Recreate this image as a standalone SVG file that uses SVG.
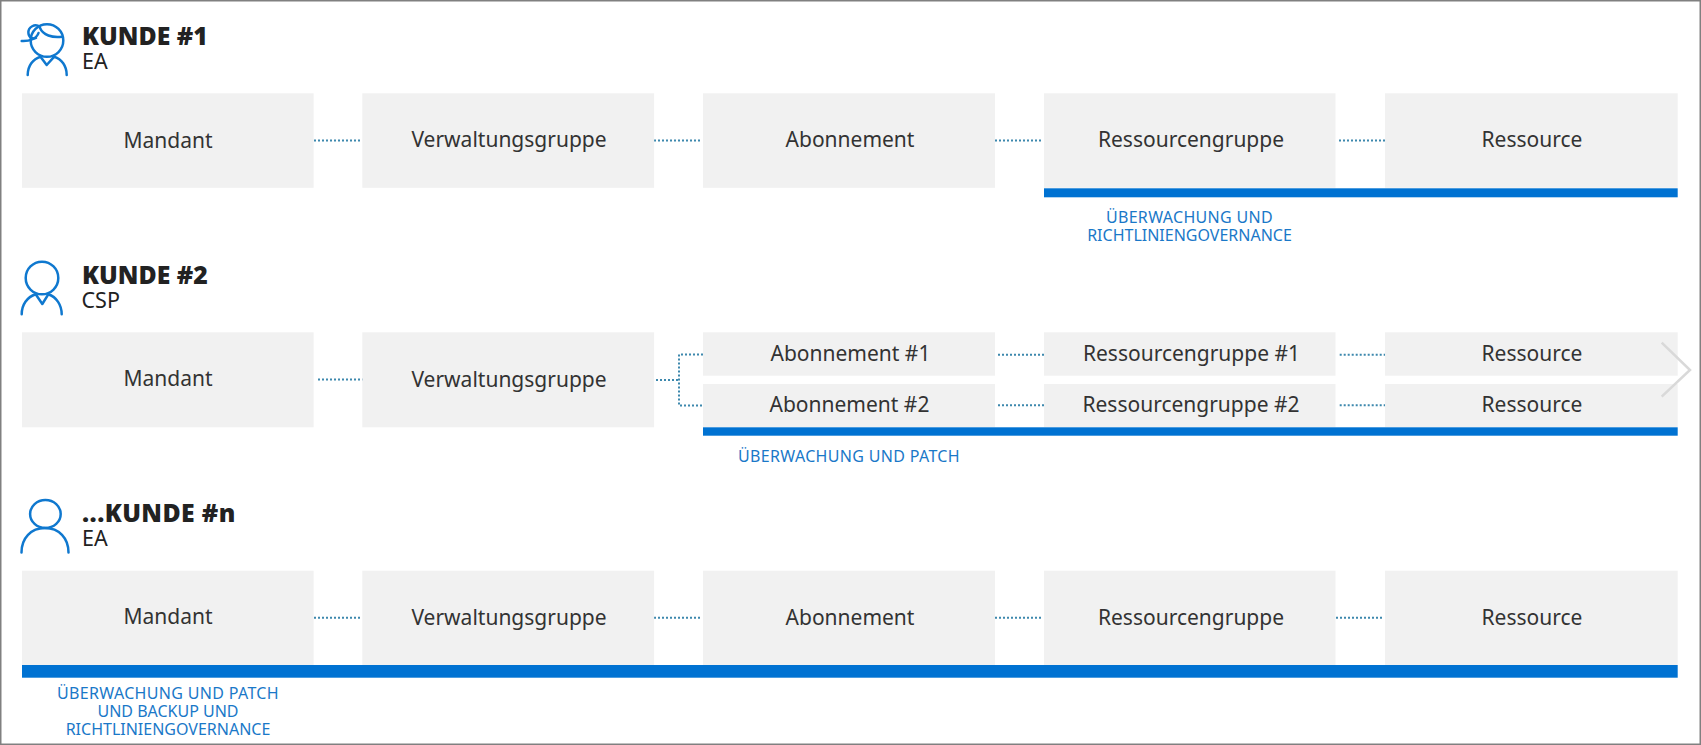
<svg xmlns="http://www.w3.org/2000/svg" width="1701" height="745" viewBox="0 0 1701 745">
<style>
.box{fill:#f1f1f1}
.bar{fill:#0072d2}
.t{font-family:"Noto Sans","Open Sans",sans-serif;font-size:21px;fill:#333;text-anchor:middle}
.h{font-family:"Noto Sans","Open Sans",sans-serif;font-size:24.800px;font-weight:900;fill:#222}
.s{font-family:"Noto Sans","Open Sans",sans-serif;font-size:21.500px;fill:#222}
.l{font-family:"Noto Sans","Open Sans",sans-serif;font-size:16px;fill:#1a78c8;text-anchor:middle}
.w{letter-spacing:0.33px}
.c{fill:none;stroke:#3d88ad;stroke-width:2;stroke-dasharray:2 2}
.i{fill:none;stroke:#0f78cf;stroke-width:2.500;stroke-linecap:round;stroke-linejoin:round}
</style>
<rect x="0.75" y="0.75" width="1699.5" height="743.5" fill="#fff" stroke="#808080" stroke-width="1.5"/>
<g id="connectors">
<path class="c" d="M314 140.5H360M654 140.5H702M995 140.5H1041M1339 140.5H1386"/>
<path class="c" d="M318 379.5H364.500M656 380H678M703 354.500H679V405.500H703M998 354.700H1044M998 405.300H1044M1339.700 354.700H1386M1339.700 405.300H1386"/>
<path class="c" d="M314 617.700H360M654 617.700H702M995 617.700H1041M1336 617.700H1383"/>
</g>
<g id="kunde1">
<circle class="i" cx="47" cy="40.500" r="16.300"/>
<path class="i" d="M40 28C43 35 52 38 62 36.700"/>
<path class="i" d="M38.500 33C37 38 30 41.500 21.700 41"/>
<path class="i" d="M40 27C35 23 28 27 28.400 33C28.800 38 33 39.500 36 38"/>
<path class="i" d="M27.700 75C27.700 66 33 59 40.500 56.700L46.700 65L54.300 56.700C61.500 59 66.700 66 66.700 75"/>
</g>
<g id="mandant1"><rect class="box" x="22" y="93.300" width="291.600" height="94.500"/><text class="t" x="168" y="147.500">Mandant</text></g>
<g id="vg1"><rect class="box" x="362.300" y="93.300" width="291.800" height="94.500"/><text class="t" x="509" y="147">Verwaltungsgruppe</text></g>
<g id="abo1"><rect class="box" x="703" y="93.300" width="292" height="94.500"/><text class="t" x="850" y="147">Abonnement</text></g>
<g id="rg1"><rect class="box" x="1044" y="93.300" width="291.500" height="94.500"/><text class="t" x="1191" y="147">Ressourcengruppe</text></g>
<g id="res1"><rect class="box" x="1385" y="93.300" width="292.700" height="94.500"/><text class="t" x="1532" y="147">Ressource</text></g>
<g id="kopf1"><text class="h" x="82" y="45">KUNDE #1</text><text class="s" x="82" y="69">EA</text></g>
<g id="bereich1"><rect class="bar" x="1044" y="188.300" width="633.700" height="9"/><text class="l w" x="1189.500" y="223.300">ÜBERWACHUNG UND</text><text class="l" x="1189.500" y="241">RICHTLINIENGOVERNANCE</text></g>
<g id="kunde2">
<circle class="i" cx="42" cy="278" r="16.300"/>
<path class="i" d="M21.700 314.300C21.700 305 27 297 35.700 294.300L42.300 304L48.300 294.300C56.500 297 61.700 305 61.700 314.300"/>
</g>
<g id="kopf2"><text class="h" x="82" y="284">KUNDE #2</text><text class="s" x="81.500" y="308.300">CSP</text></g>
<g id="mandant2"><rect class="box" x="22" y="332.300" width="291.600" height="95"/><text class="t" x="168" y="385.500">Mandant</text></g>
<g id="vg2"><rect class="box" x="362.300" y="332.300" width="291.800" height="95"/><text class="t" x="509" y="386.500">Verwaltungsgruppe</text></g>
<g id="abo21"><rect class="box" x="703" y="332.300" width="292" height="43.400"/><text class="t" x="850.500" y="361">Abonnement #1</text></g>
<g id="abo22"><rect class="box" x="703" y="384" width="292" height="43"/><text class="t" x="849.500" y="412.200">Abonnement #2</text></g>
<g id="rg21"><rect class="box" x="1044" y="332.300" width="291.500" height="43.400"/><text class="t" x="1191.500" y="361">Ressourcengruppe #1</text></g>
<g id="rg22"><rect class="box" x="1044" y="384" width="291.500" height="43"/><text class="t" x="1191" y="412.200">Ressourcengruppe #2</text></g>
<g id="res21"><rect class="box" x="1385" y="332.300" width="292.700" height="43.400"/><text class="t" x="1532" y="361">Ressource</text></g>
<g id="res22"><rect class="box" x="1385" y="384" width="292.700" height="43"/><text class="t" x="1532" y="412.200">Ressource</text></g>
<g id="bereich2"><rect class="bar" x="703" y="427.300" width="974.700" height="8.400"/><text class="l w" x="849" y="462.300">ÜBERWACHUNG UND PATCH</text></g>
<path id="chevron" d="M1661.700 342.700L1690 370L1661.700 396.700" fill="none" stroke="#d9d9d9" stroke-width="2.500"/>
<g id="kunde3">
<ellipse class="i" cx="45.400" cy="514" rx="15.300" ry="14"/>
<path class="i" d="M21.500 552.500C21.500 538 31 528 45 528C59 528 68.500 538 68.500 552.500"/>
</g>
<g id="kopf3"><text class="h" x="82" y="521.700" letter-spacing="0.400">...KUNDE #n</text><text class="s" x="82" y="546">EA</text></g>
<g id="mandant3"><rect class="box" x="22" y="570.700" width="291.600" height="94.300"/><text class="t" x="168" y="623.700">Mandant</text></g>
<g id="vg3"><rect class="box" x="362.300" y="570.700" width="291.800" height="94.300"/><text class="t" x="509" y="625">Verwaltungsgruppe</text></g>
<g id="abo3"><rect class="box" x="703" y="570.700" width="292" height="94.300"/><text class="t" x="850" y="625">Abonnement</text></g>
<g id="rg3"><rect class="box" x="1044" y="570.700" width="291.500" height="94.300"/><text class="t" x="1191" y="625">Ressourcengruppe</text></g>
<g id="res3"><rect class="box" x="1385" y="570.700" width="292.700" height="94.300"/><text class="t" x="1532" y="625">Ressource</text></g>
<g id="bereich3"><rect class="bar" x="22" y="665" width="1655.700" height="12.700"/><text class="l w" x="168" y="699">ÜBERWACHUNG UND PATCH</text><text class="l" x="168" y="717">UND BACKUP UND</text><text class="l" x="168" y="735">RICHTLINIENGOVERNANCE</text></g>
</svg>
